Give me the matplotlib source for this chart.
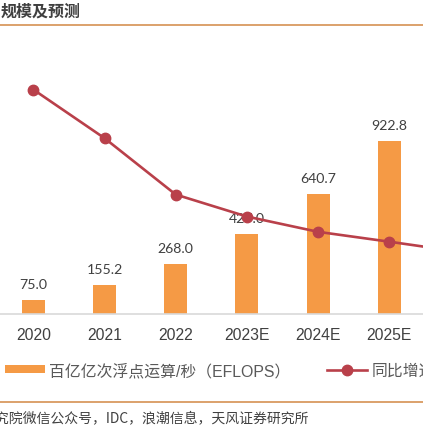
import matplotlib
matplotlib.use("Agg")
import matplotlib.pyplot as plt
from matplotlib.lines import Line2D
import numpy as np

plt.rcParams['font.family'] = ['Noto Sans CJK SC', 'DejaVu Sans']

# ---- data ----
years = ["2020", "2021", "2022", "2023E", "2024E", "2025E", "2026E"]
eflops = [75.0, 155.2, 268.0, 427.0, 640.7, 922.8, 1271.4]
growth = [1.366, 1.07, 0.727, 0.593, 0.50, 0.44, 0.378]
bar_label = "百亿亿次浮点运算/秒（EFLOPS）"
line_label = "同比增速"
title_text = "规模及预测"
source_text = "研究院微信公众号，IDC，浪潮信息，天风证券研究所"
n_visible = 6  # categories inside the cropped picture

W, H = 423, 427
fig = plt.figure(figsize=(W / 100, H / 100), dpi=100)

def fx(px):
    return px / W

def fy(py):
    return 1 - py / H

BAR_C = "#F59A45"
LINE_C = "#B9404A"
SEP_C = "#D99A60"
TXT_C = "#404040"

# axes geometry (pixels): baseline at y=315, category spacing 71.2 px, first at x=33.3
spacing = 71.2
x0 = 33.3 - spacing / 2
ax_w = spacing * len(years)
ax_h = 1400 * 0.1878
ax = fig.add_axes([fx(x0), fy(315), ax_w / W, ax_h / H])
x = np.arange(len(years))
bars = ax.bar(x, eflops, width=0.325, color=BAR_C, zorder=2, label=bar_label)
ax.set_xlim(-0.5, len(years) - 0.5)
ax.set_ylim(0, 1400)
ax.set_xticks(x[:n_visible])
ax.set_xticklabels(years[:n_visible], fontsize=11.3, color=TXT_C,
                   family=['Liberation Sans', 'DejaVu Sans'])
ax.tick_params(axis='x', length=0, pad=9)
ax.set_yticks([])
for s in ["top", "left", "right"]:
    ax.spines[s].set_visible(False)
ax.spines["bottom"].set_color("#D9D9D9")
ax.spines["bottom"].set_linewidth(1.2)
ax.patch.set_alpha(0)

for xi, v in zip(x[:n_visible], eflops[:n_visible]):
    ax.annotate(f"{v:.1f}", (xi, v), xytext=(0, 8.5), textcoords="offset points",
                ha="center", va="baseline", fontsize=10.2, color=TXT_C,
                family=['Lato', 'DejaVu Sans'], zorder=3)

ax2 = ax.twinx()
ax2.set_ylim(0, 1.6)
ln, = ax2.plot(x, growth, color=LINE_C, lw=1.9, marker="o", markersize=7.5,
               zorder=4, label=line_label)
ax2.set_yticks([])
for s in ["top", "left", "right", "bottom"]:
    ax2.spines[s].set_visible(False)

# legend
leg = fig.legend(handles=[bars, ln], labels=[bar_label, line_label],
                 loc="center left", bbox_to_anchor=(fx(5), fy(371)),
                 ncol=2, frameon=False, borderaxespad=0, borderpad=0,
                 prop={'family': ['Liberation Sans', 'Noto Sans CJK SC'], 'size': 11.4},
                 handlelength=2.5, handleheight=0.45, handletextpad=0.3,
                 columnspacing=2.3, labelcolor="#595959")

# title and separators
fig.text(fx(1), fy(12), title_text, fontsize=11.5, fontweight="bold", color="#3F3F3F",
         ha="left", va="center")
fig.add_artist(Line2D([0, 1], [fy(25.5), fy(25.5)], color=SEP_C, lw=1.3))
fig.add_artist(Line2D([0, 1], [fy(402.5), fy(402.5)], color=SEP_C, lw=1.3))
fig.text(fx(-18), fy(418), source_text, fontsize=10, color=TXT_C, ha="left", va="center",
         family=['Noto Sans CJK SC', 'DejaVu Sans'])

fig.savefig("out.png", dpi=100)
